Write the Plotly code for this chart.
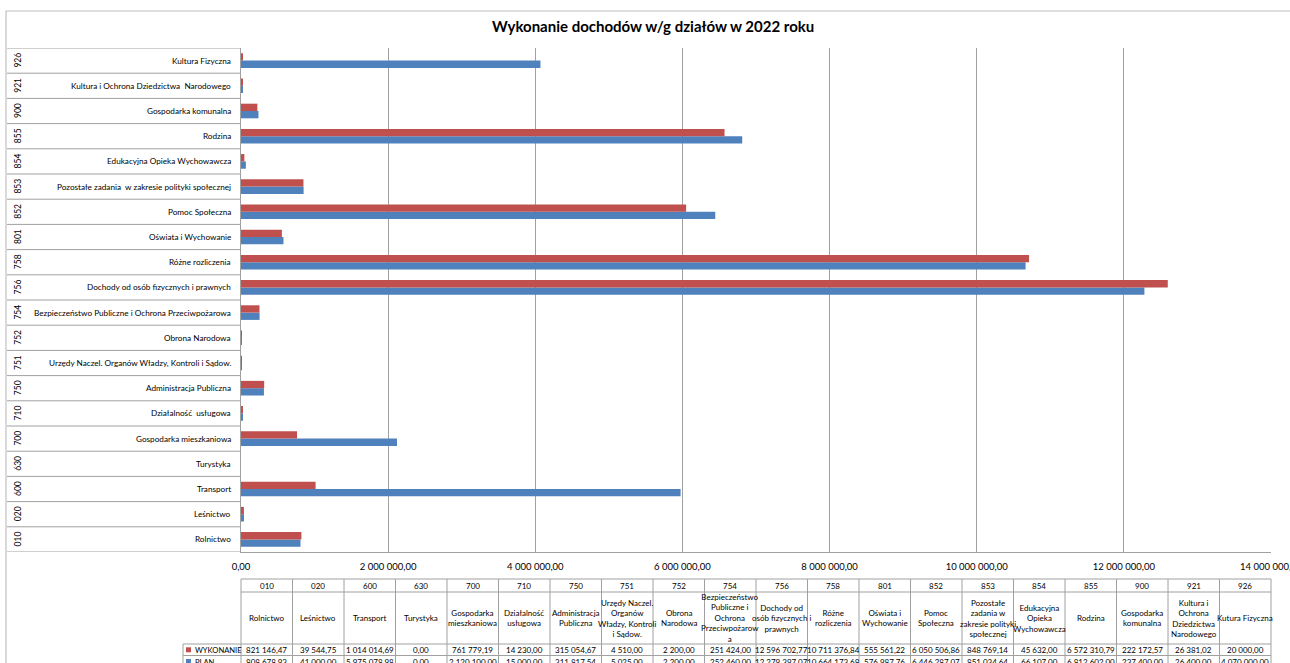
import plotly.graph_objects as go

W, H = 1290, 663

codes = ["010", "020", "600", "630", "700", "710", "750", "751", "752", "754",
         "756", "758", "801", "852", "853", "854", "855", "900", "921", "926"]
names = ["Rolnictwo", "Leśnictwo", "Transport", "Turystyka", "Gospodarka mieszkaniowa",
         "Działalność  usługowa", "Administracja Publiczna",
         "Urzędy Naczel. Organów Władzy, Kontroli i Sądow.", "Obrona Narodowa",
         "Bezpieczeństwo Publiczne i Ochrona Przeciwpożarowa",
         "Dochody od osób fizycznych i prawnych", "Różne rozliczenia", "Oświata i Wychowanie",
         "Pomoc Społeczna", "Pozostałe zadania  w zakresie polityki społecznej",
         "Edukacyjna Opieka Wychowawcza", "Rodzina", "Gospodarka komunalna",
         "Kultura i Ochrona Dziedzictwa  Narodowego", "Kultura Fizyczna"]
table_names = ["Rolnictwo", "Leśnictwo", "Transport", "Turystyka",
               "Gospodarka<br>mieszkaniowa", "Działalność<br>usługowa",
               "Administracja<br>Publiczna",
               "Urzędy Naczel.<br>Organów<br>Władzy, Kontroli<br>i Sądow.",
               "Obrona<br>Narodowa",
               "Bezpieczeństwo<br>Publiczne i<br>Ochrona<br>Przeciwpożarow<br>a",
               "Dochody od<br>osób fizycznych i<br>prawnych", "Różne<br>rozliczenia",
               "Oświata i<br>Wychowanie", "Pomoc<br>Społeczna",
               "Pozostałe<br>zadania w<br>zakresie polityki<br>społecznej",
               "Edukacyjna<br>Opieka<br>Wychowawcza", "Rodzina", "Gospodarka<br>komunalna",
               "Kultura i<br>Ochrona<br>Dziedzictwa<br>Narodowego", "Kutura Fizyczna"]
wykonanie = [821146.47, 39544.75, 1014014.69, 0.00, 761779.19, 14230.00, 315054.67,
             4510.00, 2200.00, 251424.00, 12596702.77, 10711376.84, 555561.22,
             6050506.86, 848769.14, 45632.00, 6572310.79, 222172.57, 26381.02, 20000.00]
plan = [808678.93, 41000.00, 5975078.98, 0.00, 2120100.00, 15000.00, 311817.54,
        5025.00, 2200.00, 252460.00, 12279397.07, 10664173.68, 576987.76,
        6446287.07, 851034.64, 66107.00, 6812602.00, 237400.00, 26400.00, 4070000.00]
x_ticks = [0, 2000000, 4000000, 6000000, 8000000, 10000000, 12000000, 14000000]
title = "Wykonanie dochodów w/g działów w 2022 roku"
series_names = ["WYKONANIE", "PLAN"]

RED = "#C0504D"
BLUE = "#4F81BD"
GRID = "#a0a0a0"
FONT = "Lato"

L, R, T, B = 241, 1271, 48, 552


def fmt(v):
    return f"{v:,.2f}".replace(",", " ").replace(".", ",")


def px(p):
    # pixel x -> paper x (paper spans the plot area)
    return (p - L) / (R - L)


def py(p):
    # pixel y (from top) -> paper y
    return (B - p) / (B - T)


fig = go.Figure()
fig.add_trace(go.Bar(y=codes, x=plan, orientation="h", name="PLAN",
                     marker=dict(color=BLUE, line=dict(width=0))))
fig.add_trace(go.Bar(y=codes, x=wykonanie, orientation="h", name="WYKONANIE",
                     marker=dict(color=RED, line=dict(width=0))))

tick_font = dict(size=9.5, family=FONT, color="#000000")

fig.update_layout(
    width=W, height=H,
    margin=dict(l=L, r=W - R, t=T, b=H - B, pad=0, autoexpand=False),
    paper_bgcolor="white", plot_bgcolor="white",
    barmode="group", bargap=0.42, bargroupgap=0,
    showlegend=False,
    font=dict(family=FONT, color="#000000"),
    xaxis=dict(range=[0, 14000000], tickvals=x_ticks,
               ticktext=[fmt(v) for v in x_ticks],
               showgrid=True, gridcolor=GRID, gridwidth=1, zeroline=False,
               showline=True, linecolor=GRID, linewidth=1,
               ticks="outside", ticklen=6, tickcolor="rgba(0,0,0,0)",
               tickfont=tick_font, automargin=False,
               fixedrange=True),
    yaxis=dict(type="category", categoryorder="array", categoryarray=codes,
               range=[-0.5, len(codes) - 0.5], showticklabels=False,
               showgrid=False, zeroline=False, showline=True, linecolor=GRID,
               linewidth=1, ticks="", fixedrange=True, automargin=False),
)

shapes = []
annotations = []

# last value-axis label (plotly hides it because it runs past the page edge)
annotations.append(dict(xref="x", yref="paper", x=x_ticks[-1], y=py(566.5),
                        text=fmt(x_ticks[-1]), xanchor="center", yanchor="middle",
                        showarrow=False, font=tick_font))

# outer chart border
shapes.append(dict(type="rect", xref="paper", yref="paper",
                   x0=px(6), x1=px(W + 10), y0=py(11), y1=py(H + 10),
                   line=dict(color="#c0c0c0", width=1.2)))

# category axis separators
for i in range(len(codes) + 1):
    shapes.append(dict(type="line", xref="paper", yref="y",
                       x0=px(7), x1=0, y0=i - 0.5, y1=i - 0.5,
                       line=dict(color=GRID, width=1)))

# category labels (y given as category index on the category axis)
for i, (c, n) in enumerate(zip(codes, names)):
    annotations.append(dict(xref="paper", yref="y", x=px(233), y=i, text=n,
                            xanchor="right", yanchor="middle", showarrow=False,
                            font=dict(size=8.2, family=FONT, color="#000000")))
    annotations.append(dict(xref="paper", yref="y", x=px(18), y=i, text=c,
                            textangle=-90, xanchor="center", yanchor="middle",
                            showarrow=False,
                            font=dict(size=8.5, family=FONT, color="#000000")))

# title
annotations.append(dict(xref="paper", yref="paper", x=px(653), y=py(26.5),
                        text=f"<b>{title}</b>",
                        xanchor="center", yanchor="middle", showarrow=False,
                        font=dict(size=15, family=FONT, color="#000000")))

# data table
n = len(codes)
cw = (R - L) / n
rows = [579, 592, 644, 655.5, 667]
for yy in rows:
    x0 = L if yy < 600 else 183
    shapes.append(dict(type="line", xref="paper", yref="paper",
                       x0=px(x0), x1=px(R), y0=py(yy), y1=py(yy),
                       line=dict(color=GRID, width=1)))
for i in range(n + 1):
    xx = L + i * cw
    shapes.append(dict(type="line", xref="paper", yref="paper",
                       x0=px(xx), x1=px(xx), y0=py(579), y1=py(670),
                       line=dict(color=GRID, width=1)))
shapes.append(dict(type="line", xref="paper", yref="paper",
                   x0=px(183), x1=px(183), y0=py(644), y1=py(670),
                   line=dict(color=GRID, width=1)))

tf = dict(size=8, family=FONT, color="#000000")
for i in range(n):
    cx = px(L + (i + 0.5) * cw)
    annotations.append(dict(xref="paper", yref="paper", x=cx, y=py(585.5), text=codes[i],
                            xanchor="center", yanchor="middle", showarrow=False, font=tf))
    annotations.append(dict(xref="paper", yref="paper", x=cx, y=py(618), text=table_names[i],
                            xanchor="center", yanchor="middle", showarrow=False, font=tf))
    annotations.append(dict(xref="paper", yref="paper", x=cx, y=py(649.8), text=fmt(wykonanie[i]),
                            xanchor="center", yanchor="middle", showarrow=False, font=tf))
    annotations.append(dict(xref="paper", yref="paper", x=cx, y=py(661.5), text=fmt(plan[i]),
                            xanchor="center", yanchor="middle", showarrow=False, font=tf))

# row headers with legend keys
hf = dict(size=7.6, family=FONT, color="#000000")
for yy, nm, col in [(649.8, series_names[0], RED), (661.5, series_names[1], BLUE)]:
    shapes.append(dict(type="rect", xref="paper", yref="paper",
                       x0=px(186), x1=px(191), y0=py(yy - 2.5), y1=py(yy + 2.5),
                       fillcolor=col, line=dict(width=0)))
    annotations.append(dict(xref="paper", yref="paper", x=px(193), y=py(yy), text=nm,
                            xanchor="left", yanchor="middle", showarrow=False, font=hf))

fig.update_layout(shapes=shapes, annotations=annotations)
fig.write_html("out.html",
               config={"displayModeBar": False},
               post_script="document.body.style.margin='0';document.body.style.overflow='hidden';")
